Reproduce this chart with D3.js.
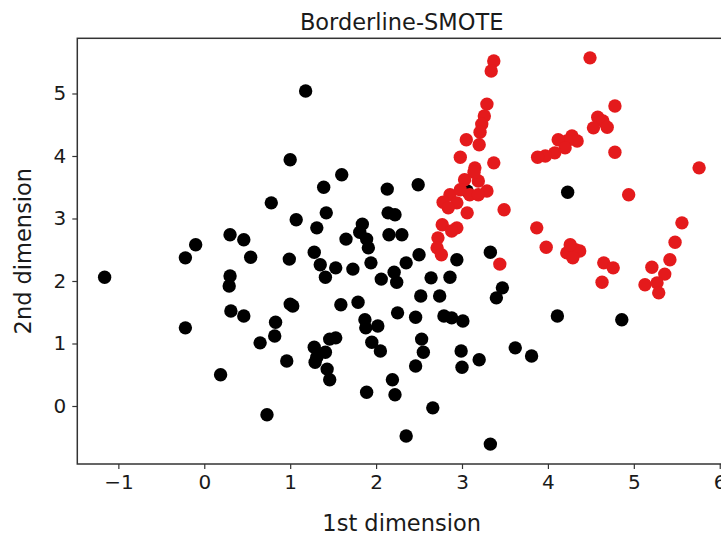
<!DOCTYPE html>
<html>
<head>
<meta charset="utf-8">
<script src="https://cdn.jsdelivr.net/npm/d3@7"></script>
<style>
  html, body { margin: 0; padding: 0; background: #fff; overflow: hidden; }
  text { font-family: "DejaVu Sans", sans-serif; fill: #1a1a1a; }
</style>
</head>
<body>
<svg id="chart" width="721" height="537"></svg>
<script>
// ---- data ----
const title = "Borderline-SMOTE";
const xLabel = "1st dimension";
const yLabel = "2nd dimension";
const xTicks = [-1, 0, 1, 2, 3, 4, 5, 6];
const yTicks = [0, 1, 2, 3, 4, 5];

// majority class (black)
const blackX = [-1.16,-0.22,-0.10,0.30,0.46,0.54,0.99,0.78,1.00,1.07,1.18,0.30,0.29,0.31,0.46,-0.22,0.83,0.82,0.65,1.00,1.03,0.96,0.19,0.73,
  1.60,1.39,2.13,2.49,1.42,2.14,2.22,1.31,1.84,1.81,1.65,1.89,1.91,2.15,2.30,1.28,1.35,1.41,1.53,1.73,1.94,2.06,2.21,2.24,2.35,2.50,2.64,2.86,2.94,3.33,
  1.59,1.79,1.87,1.88,2.02,2.25,2.46,2.52,2.74,2.79,2.88,3.01,3.47,3.40,1.28,1.31,1.41,1.46,1.53,1.29,1.43,1.46,1.95,2.05,2.53,2.55,2.46,2.99,3.00,3.20,
  2.19,2.22,1.89,2.66,2.35,3.33,3.62,3.81,4.11,4.86,4.23,3.06];
const blackY = [2.06,2.37,2.58,2.74,2.66,2.38,2.35,3.25,3.94,2.98,5.04,2.08,1.92,1.52,1.44,1.25,1.34,1.12,1.01,1.63,1.60,0.72,0.50,-0.14,
  3.70,3.50,3.47,3.54,3.09,3.09,3.06,2.85,2.91,2.78,2.67,2.67,2.53,2.74,2.74,2.46,2.26,2.06,2.21,2.19,2.29,2.03,2.14,1.98,2.29,2.42,2.05,2.06,2.34,2.46,
  1.62,1.66,1.38,1.25,1.28,1.49,1.42,1.76,1.76,1.44,1.41,1.36,1.89,1.73,0.94,0.78,0.86,1.07,1.09,0.70,0.59,0.42,1.02,0.88,1.07,0.86,0.64,0.88,0.62,0.74,
  0.42,0.18,0.22,-0.03,-0.48,-0.61,0.93,0.80,1.44,1.38,3.42,3.44];

// minority class incl. synthetic samples (red)
const redX = [3.37,3.34,3.29,3.26,3.23,3.21,3.20,3.05,2.98,3.37,3.15,3.03,3.19,3.29,2.86,2.78,2.94,3.06,3.49,2.77,2.94,2.72,2.71,2.76,3.44,
  3.09,3.19,2.98,2.84,3.14,4.49,4.78,4.58,4.64,4.69,4.53,4.78,4.28,4.34,4.22,4.12,4.20,4.08,3.97,3.88,5.76,4.94,5.56,3.87,5.48,3.98,4.22,4.32,4.37,4.29,
  4.65,4.76,4.63,5.21,5.42,5.36,5.13,5.27,5.29,2.88,4.26];
const redY = [5.52,5.36,4.83,4.64,4.51,4.38,4.18,4.26,3.98,3.89,3.81,3.62,3.60,3.44,3.38,3.26,3.25,3.09,3.14,2.90,2.85,2.69,2.53,2.42,2.27,
  3.38,3.38,3.46,3.17,3.74,5.57,4.80,4.62,4.56,4.46,4.45,4.06,4.32,4.24,4.24,4.26,4.13,4.05,4.00,3.98,3.81,3.38,2.93,2.85,2.62,2.54,2.45,2.50,2.48,2.37,
  2.29,2.21,1.98,2.22,2.34,2.11,1.94,1.97,1.81,2.80,2.58];

// ---- layout ----
const mLeft = 77.3, mRight = 726, mTop = 38.3, mBottom = 464;
const svg = d3.select("#chart");
const x = d3.scaleLinear().domain([-1.478, 6.073]).range([mLeft, mRight]);
const y = d3.scaleLinear().domain([-0.928, 5.883]).range([mBottom, mTop]);
const fsTick = 20, fsLabel = 22.5;

// points
const black = blackX.map((v, i) => ({x: v, y: blackY[i]}));
const red = redX.map((v, i) => ({x: v, y: redY[i]}));
const g = svg.append("g");
g.selectAll("circle.b").data(black).join("circle")
  .attr("class", "b").attr("cx", d => x(d.x)).attr("cy", d => y(d.y))
  .attr("r", 6.7).attr("fill", "#000");
g.selectAll("circle.r").data(red).join("circle")
  .attr("class", "r").attr("cx", d => x(d.x)).attr("cy", d => y(d.y))
  .attr("r", 6.7).attr("fill", "#e41a1c");

// axes
const fmt = d => d < 0 ? "\u2212" + Math.abs(d) : String(d);
const xAxis = svg.append("g").attr("transform", `translate(0,${mBottom})`)
  .call(d3.axisBottom(x).tickValues(xTicks).tickSize(5).tickPadding(6).tickFormat(fmt));
const yAxis = svg.append("g").attr("transform", `translate(${mLeft},0)`)
  .call(d3.axisLeft(y).tickValues(yTicks).tickSize(5).tickPadding(6).tickFormat(fmt));
[xAxis, yAxis].forEach(a => {
  a.select(".domain").remove();
  a.selectAll("line").attr("stroke", "#333").attr("stroke-width", 1.2);
  a.selectAll("text").attr("font-size", fsTick).attr("fill", "#1a1a1a")
    .style("font-family", "'DejaVu Sans', sans-serif");
});

// frame
svg.append("rect").attr("x", mLeft).attr("y", mTop)
  .attr("width", mRight - mLeft).attr("height", mBottom - mTop)
  .attr("fill", "none").attr("stroke", "#333").attr("stroke-width", 1.5);

// labels
svg.append("text").attr("x", (mLeft + mRight) / 2).attr("y", 30)
  .attr("text-anchor", "middle").attr("font-size", fsLabel).text(title);
svg.append("text").attr("x", (mLeft + mRight) / 2).attr("y", 531)
  .attr("text-anchor", "middle").attr("font-size", fsLabel).text(xLabel);
svg.append("text").attr("transform", `translate(31,${(mTop + mBottom) / 2}) rotate(-90)`)
  .attr("text-anchor", "middle").attr("font-size", fsLabel).text(yLabel);
</script>
</body>
</html>
